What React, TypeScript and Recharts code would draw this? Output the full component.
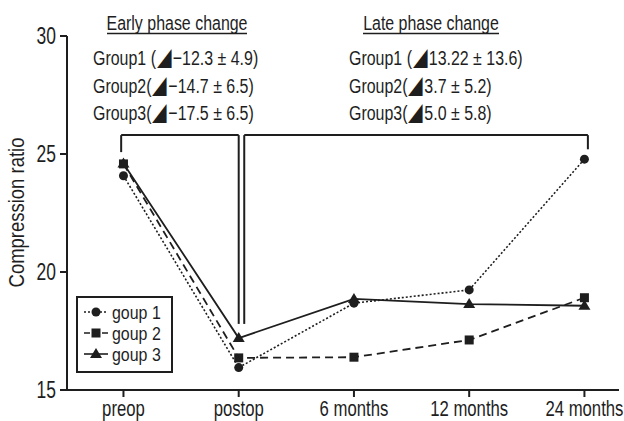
import React from "react";
import {
  LineChart,
  Line,
  XAxis,
  YAxis,
  ReferenceLine,
  Customized,
} from "recharts";

const categories = ["preop", "postop", "6 months", "12 months", "24 months"];
const group1 = [24.08, 15.95, 18.68, 19.24, 24.78];
const group2 = [24.58, 16.36, 16.39, 17.12, 18.91];
const group3 = [24.6, 17.2, 18.86, 18.64, 18.57];
const seriesNames = ["goup 1", "goup 2", "goup 3"];
const yTicks = [15, 20, 25, 30];
const yLabel = "Compression ratio";

const earlyTitle = "Early phase change";
const lateTitle = "Late phase change";
const earlyLines = [
  "Group1 (\u25E2\u221212.3 \u00B1 4.9)",
  "Group2(\u25E2\u221214.7 \u00B1 6.5)",
  "Group3(\u25E2\u221217.5 \u00B1 6.5)",
];
const lateLines = [
  "Group1 (\u25E213.22 \u00B1 13.6)",
  "Group2(\u25E23.7 \u00B1 5.2)",
  "Group3(\u25E25.0 \u00B1 5.8)",
];

// bracket anchors (category-index units, ratio units)
const bracketTop = 25.8;
const earlyBracket = { x0: -0.02, x1: 1.0, stubBottom: 25.08, bottom: 17.8 };
const lateBracket = { x0: 1.048, x1: 4.03, stubBottom: 25.2, bottom: 17.8 };

const data = categories.map((c, i) => ({
  x: i,
  g1: group1[i],
  g2: group2[i],
  g3: group3[i],
}));

const FONT = "'Liberation Sans', Arial, sans-serif";
const INK = "#1e1e1e";
const TRI = "\u25E2";

const renderParts = (s: string) => {
  const parts = String(s).split(TRI);
  const out: any[] = [];
  parts.forEach((p, i) => {
    if (i > 0)
      out.push(
        <tspan key={`t${i}`} fontSize="1.2em" dx={1}>
          {TRI}
        </tspan>
      );
    out.push(
      <tspan key={`p${i}`} fontSize="1em" dx={i > 0 ? 2 : 0}>
        {p}
      </tspan>
    );
  });
  return out;
};

const CText = ({ x, y, size, anchor = "start", sx = 0.76, children }: any) => (
  <g transform={`translate(${x} ${y}) scale(${sx} 1)`}>
    <text x={0} y={0} fontSize={size} fontFamily={FONT} fill={INK} textAnchor={anchor}>
      {typeof children === "string" && children.includes(TRI) ? renderParts(children) : children}
    </text>
  </g>
);

const CircleDot = (p: any) => (
  <circle key={`c${p.index}`} cx={p.cx} cy={p.cy} r={4.5} fill={INK} />
);
const SquareDot = (p: any) => (
  <rect key={`s${p.index}`} x={p.cx - 4.5} y={p.cy - 4.5} width={9} height={9} fill={INK} />
);
const TriDot = (p: any) => (
  <polygon
    key={`t${p.index}`}
    points={`${p.cx},${p.cy - 6} ${p.cx + 6},${p.cy + 4} ${p.cx - 6},${p.cy + 4}`}
    fill={INK}
  />
);

const XTick = (p: any) => (
  <CText x={p.x} y={p.y + 17} size={22} anchor="middle">
    {categories[p.payload.value]}
  </CText>
);
const YTick = (p: any) => (
  <CText x={p.x - 2} y={p.y + 8} size={23} anchor="end">
    {String(p.payload.value)}
  </CText>
);

const Annotations = () => {
  const rows = [
    { dash: "2 2", dot: "c" },
    { dash: "6 3", dot: "s" },
    { dash: undefined, dot: "t" },
  ];
  return (
    <g>
      <CText x={177} y={30} size={21} anchor="middle">{earlyTitle}</CText>
      <line x1={107} x2={247} y1={33.5} y2={33.5} stroke={INK} strokeWidth={1.5} />
      <CText x={431} y={30} size={21} anchor="middle">{lateTitle}</CText>
      <line x1={363} x2={499} y1={33.5} y2={33.5} stroke={INK} strokeWidth={1.5} />
      {earlyLines.map((t, i) => (
        <CText key={`e${i}`} x={93} y={65 + i * 27.7} size={21}>{t}</CText>
      ))}
      {lateLines.map((t, i) => (
        <CText key={`l${i}`} x={349} y={65 + i * 27.7} size={21}>{t}</CText>
      ))}
      <g transform="translate(24 212.5) rotate(-90)">
        <CText x={0} y={0} size={22} sx={0.84} anchor="middle">{yLabel}</CText>
      </g>
      <rect x={77} y={297} width={95} height={75} fill="#fff" stroke={INK} strokeWidth={2} />
      {rows.map((r, i) => {
        const cy = 312 + i * 21;
        return (
          <g key={`lg${i}`}>
            <line x1={84} x2={108} y1={cy} y2={cy} stroke={INK} strokeWidth={1.6} strokeDasharray={r.dash} />
            {r.dot === "c" && <circle cx={96} cy={cy} r={4.5} fill={INK} />}
            {r.dot === "s" && <rect x={91.5} y={cy - 4.5} width={9} height={9} fill={INK} />}
            {r.dot === "t" && <polygon points={`96,${cy - 6} 102,${cy + 4} 90,${cy + 4}`} fill={INK} />}
            <CText x={112} y={cy + 6.5} size={19} sx={0.84}>{seriesNames[i]}</CText>
          </g>
        );
      })}
    </g>
  );
};

export default function App() {
  const seg = (a: [number, number], b: [number, number], k: string) => (
    <ReferenceLine
      key={k}
      segment={[
        { x: a[0], y: a[1] },
        { x: b[0], y: b[1] },
      ]}
      stroke={INK}
      strokeWidth={2}
      ifOverflow="visible"
    />
  );
  return (
    <div style={{ position: "absolute", left: 0, top: 0, background: "#fff" }}>
      <LineChart
        width={624}
        height={421}
        data={data}
        margin={{ top: 36, right: 5, bottom: 0, left: 0 }}
      >
        <XAxis
          dataKey="x"
          type="number"
          domain={[-0.49, 4.3]}
          ticks={[0, 1, 2, 3, 4]}
          allowDataOverflow
          height={31}
          tickSize={7}
          axisLine={{ stroke: INK, strokeWidth: 2 }}
          tickLine={{ stroke: INK, strokeWidth: 2 }}
          tick={<XTick />}
          interval={0}
        />
        <YAxis
          type="number"
          domain={[15, 30]}
          ticks={yTicks}
          width={67}
          tickSize={7}
          axisLine={{ stroke: INK, strokeWidth: 2 }}
          tickLine={{ stroke: INK, strokeWidth: 2 }}
          tick={<YTick />}
        />
        {seg([earlyBracket.x0, earlyBracket.stubBottom], [earlyBracket.x0, bracketTop], "e1")}
        {seg([earlyBracket.x0, bracketTop], [earlyBracket.x1, bracketTop], "e2")}
        {seg([earlyBracket.x1, bracketTop], [earlyBracket.x1, earlyBracket.bottom], "e3")}
        {seg([lateBracket.x0, lateBracket.bottom], [lateBracket.x0, bracketTop], "l1")}
        {seg([lateBracket.x0, bracketTop], [lateBracket.x1, bracketTop], "l2")}
        {seg([lateBracket.x1, bracketTop], [lateBracket.x1, lateBracket.stubBottom], "l3")}
        <Line
          dataKey="g1"
          name={seriesNames[0]}
          stroke={INK}
          strokeWidth={1.6}
          strokeDasharray="2 2"
          dot={CircleDot}
          activeDot={false}
          isAnimationActive={false}
        />
        <Line
          dataKey="g2"
          name={seriesNames[1]}
          stroke={INK}
          strokeWidth={1.8}
          strokeDasharray="8 5"
          dot={SquareDot}
          activeDot={false}
          isAnimationActive={false}
        />
        <Line
          dataKey="g3"
          name={seriesNames[2]}
          stroke={INK}
          strokeWidth={1.8}
          dot={TriDot}
          activeDot={false}
          isAnimationActive={false}
        />
        <Customized component={<Annotations />} />
      </LineChart>
    </div>
  );
}
